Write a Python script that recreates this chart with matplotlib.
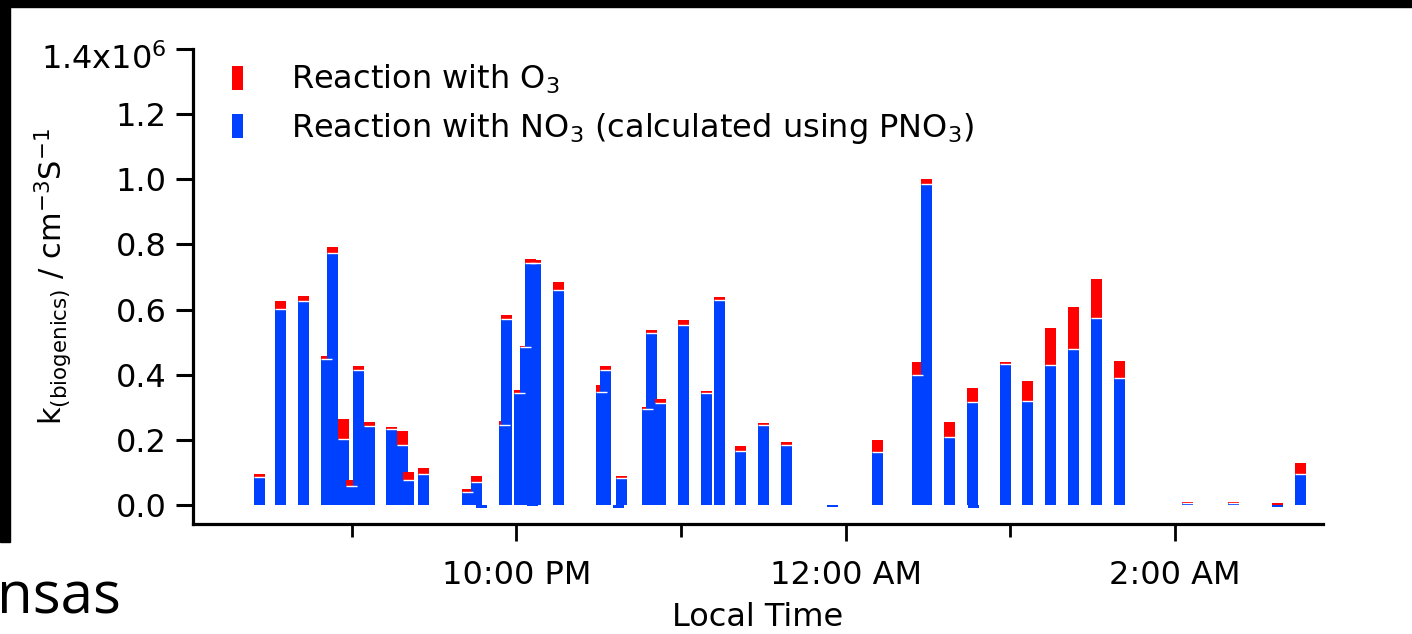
import numpy as np
import matplotlib
matplotlib.use("Agg")
import matplotlib.pyplot as plt
from matplotlib.patches import Patch, Rectangle
from matplotlib.transforms import ScaledTranslation

plt.rcParams['font.family'] = ['DejaVu Sans']
plt.rcParams['mathtext.default'] = 'regular'

# sample times, minutes after 8:00 PM local time
t_min = [26.4, 34.0, 42.4, 50.8, 53.0, 57.0, 59.9, 62.5, 66.5, 74.5,
         78.5, 80.7, 86.2, 102.2, 105.5, 107.3, 115.7, 116.4, 121.2, 123.4,
         125.2, 125.9, 127.0, 135.4, 151.1, 152.5, 157.3, 158.4, 167.8, 169.3,
         172.6, 181.0, 189.3, 194.1, 201.7, 210.1, 218.5, 235.3, 251.7, 266.3,
         269.6, 277.9, 286.3, 286.7, 298.4, 306.4, 314.8, 323.1, 331.5, 339.9,
         364.7, 381.5, 397.5, 405.9]

# k(biogenics), units of 1e6 cm^-3 s^-1
k_no3 = [0.086, 0.601, 0.626, 0.448, 0.775, 0.201, 0.059, 0.413, 0.243, 0.233,
         0.183, 0.077, 0.096, 0.041, 0.071, -0.009, 0.247, 0.570, 0.343, 0.484,
         0.743, -0.003, 0.743, 0.659, 0.346, 0.413, -0.009, 0.084, 0.295, 0.527,
         0.314, 0.554, 0.343, 0.629, 0.167, 0.244, 0.183, -0.006, 0.164, 0.398,
         0.986, 0.210, 0.315, -0.008, 0.432, 0.318, 0.429, 0.478, 0.573, 0.389,
         0.005, 0.005, -0.006, 0.096]
k_o3 = [0.009, 0.024, 0.017, 0.010, 0.016, 0.064, 0.018, 0.015, 0.012, 0.007,
        0.045, 0.023, 0.018, 0.008, 0.018, 0.0, 0.011, 0.012, 0.011, 0.003,
        0.011, 0.0, 0.008, 0.027, 0.023, 0.015, 0.0, 0.005, 0.007, 0.011,
        0.012, 0.015, 0.008, 0.008, 0.015, 0.008, 0.011, 0.0, 0.036, 0.042,
        0.014, 0.045, 0.045, 0.0, 0.008, 0.064, 0.113, 0.131, 0.122, 0.054,
        0.004, 0.004, 0.012, 0.033]

y_ticks = [0.0, 0.2, 0.4, 0.6, 0.8, 1.0, 1.2, 1.4]
y_ticklabels = ['0.0', '0.2', '0.4', '0.6', '0.8', '1.0', '1.2', r'1.4x10$^{6}$']
x_major = [120, 240, 360]
x_major_labels = ['10:00 PM', '12:00 AM', '2:00 AM']
x_minor = [60, 180, 300]

RED = '#FF0000'
BLUE = '#0040FF'
bar_w = 4.0

fig = plt.figure(figsize=(14.12, 6.34), dpi=100)
ax = fig.add_axes([0.1367, 0.1735, 0.8003, 0.7492])

for t, b, r in zip(t_min, k_no3, k_o3):
    if r > 0:
        ax.bar(t, r, bottom=b, width=bar_w, color=RED, linewidth=0)
    ax.bar(t, b, width=bar_w, color=BLUE, linewidth=0)
    if r > 0 and b > 0:
        ax.hlines(b, t - bar_w / 2, t + bar_w / 2, color='white', linewidth=1.0)

ax.set_xlim(2.1, 414.1)
ax.set_ylim(-0.0585, 1.4)

for s in ['top', 'right']:
    ax.spines[s].set_visible(False)
for s in ['left', 'bottom']:
    ax.spines[s].set_linewidth(2.3)

ax.set_yticks(y_ticks)
ax.set_yticklabels(y_ticklabels)
ax.set_xticks(x_major)
ax.set_xticklabels(x_major_labels)
ax.set_xticks(x_minor, minor=True)
ax.tick_params(axis='y', length=12, width=2.2, pad=7, labelsize=23)
ax.tick_params(axis='x', which='major', length=12, width=2.0, pad=14, labelsize=23)
ax.tick_params(axis='x', which='minor', length=9, width=2.0)

# the top label with the exponent sits a bit lower in the original
top_lab = ax.yaxis.get_major_ticks()[-1].label1
top_lab.set_transform(top_lab.get_transform() + ScaledTranslation(0, -7 / 100, fig.dpi_scale_trans))

ax.set_xlabel('Local Time', fontsize=23, labelpad=8)
ax.set_ylabel(r'k$_{(biogenics)}$ / cm$^{-3}$S$^{-1}$', fontsize=22)
ax.yaxis.set_label_coords((74 - 193) / 1130, 0.522)

handles = [Patch(facecolor=RED, edgecolor='none'), Patch(facecolor=BLUE, edgecolor='none')]
labels = [r'Reaction with O$_3$', r'Reaction with NO$_3$ (calculated using PNO$_3$)']
fig.legend(handles, labels, loc='upper left', bbox_to_anchor=(232 / 1412, 1 - 63 / 634),
           frameon=False, fontsize=23, handlelength=0.34, handleheight=0.78,
           handletextpad=1.5, labelspacing=0.46, borderpad=0, borderaxespad=0)

# slide remnants around the pasted graph
fig.patches.append(Rectangle((0, 1 - 7 / 634), 1, 7 / 634, transform=fig.transFigure,
                             color='black', zorder=5))
fig.patches.append(Rectangle((0, 1 - 542 / 634), 10 / 1412, 542 / 634, transform=fig.transFigure,
                             color='black', zorder=5))
fig.text(-0.002, 1 - 613 / 634, 'nsas', fontsize=42,
         family=['Open Sans'], ha='left', va='baseline')

fig.savefig('out.png', dpi=100)
